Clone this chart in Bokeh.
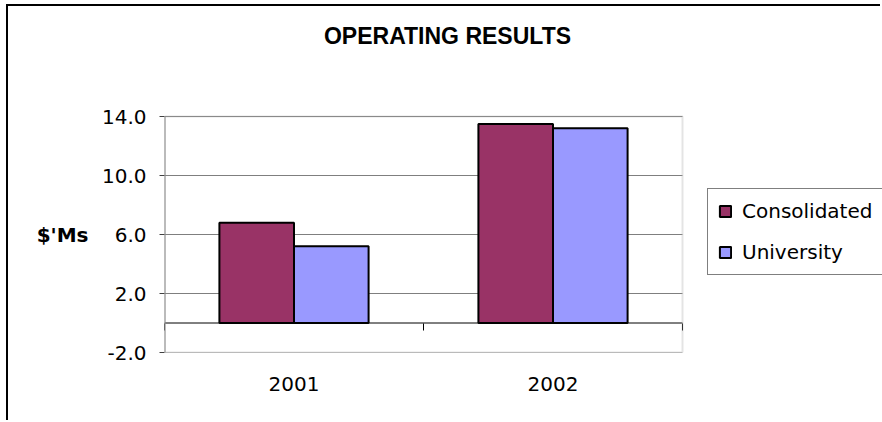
from bokeh.plotting import figure
from bokeh.models import (Range1d, FixedTicker, PrintfTickFormatter, LinearAxis,
                          Legend, LegendItem, Label, BoxAnnotation, ColumnDataSource)
from bokeh.embed import file_html
from bokeh.resources import INLINE

# Operating results, $ millions
years = ["2001", "2002"]
consolidated = [6.8, 13.5]
university = [5.2, 13.2]
y_ticks = [-2.0, 2.0, 6.0, 10.0, 14.0]
series_names = ["Consolidated", "University"]
series_colors = ["#993366", "#9999FF"]
title_text = "OPERATING RESULTS"
y_label = "$'Ms"

FONT = "DejaVu Sans"
BAR_W = 0.288

# canvas / plot-area geometry in pixels
CANVAS_W, CANVAS_H = 874, 416
LEFT, BOTTOM = 156, 70
AREA_W, AREA_H = 518, 236            # the boxed plot area
FRAME_W = CANVAS_W - LEFT            # drawing frame runs to the right edge
FRAME_H = CANVAS_H - BOTTOM          # ... and up to the top edge

n = len(years)
y_lo, y_hi = y_ticks[0], y_ticks[-1]
x_end = n * FRAME_W / AREA_W
y_end = y_lo + (y_hi - y_lo) * FRAME_H / AREA_H

# one unit-wide slot per year; the two series sit side by side in the middle
slot_centers = [i + 0.5 for i in range(n)]
source = ColumnDataSource(dict(
    left_x=[c - BAR_W / 2 for c in slot_centers],
    right_x=[c + BAR_W / 2 for c in slot_centers],
    consolidated=consolidated,
    university=university,
))

p = figure(width=CANVAS_W, height=CANVAS_H,
           x_range=Range1d(0, x_end), y_range=Range1d(y_lo, y_end),
           output_backend="svg", toolbar_location=None, title_location=None,
           min_border_left=LEFT, min_border_right=0,
           min_border_top=0, min_border_bottom=BOTTOM,
           background_fill_color="white", border_fill_color="white",
           outline_line_color=None)

# chart-area frame (top and left edges)
p.styles = {"margin-left": "6px", "margin-top": "4px",
            "border-left": "2px solid black", "border-top": "2px solid black"}

# value axis
yax = p.yaxis[0]
yax.ticker = FixedTicker(ticks=y_ticks)
yax.formatter = PrintfTickFormatter(format="%.1f")
yax.axis_line_color = None
yax.major_tick_out = 5
yax.major_tick_in = 0
yax.major_tick_line_color = "#404040"
yax.minor_tick_line_color = None
yax.major_label_text_font = FONT
yax.major_label_text_font_size = "20px"
yax.major_label_text_color = "black"
yax.major_label_standoff = 13

# unit caption, level with the middle of the value scale
mid = (y_lo + y_hi) / 2
unit_axis = LinearAxis(ticker=FixedTicker(ticks=[mid]),
                       major_label_overrides={mid: y_label},
                       axis_line_color=None, major_tick_line_color=None,
                       minor_tick_line_color=None, major_label_standoff=4,
                       major_label_text_font=FONT, major_label_text_font_style="bold",
                       major_label_text_font_size="20px", major_label_text_color="black")
p.add_layout(unit_axis, "left")

p.xgrid.visible = False
p.ygrid.visible = False

# category labels along the bottom
xax = p.xaxis[0]
xax.ticker = FixedTicker(ticks=slot_centers)
xax.major_label_overrides = {c: y for c, y in zip(slot_centers, years)}
xax.axis_line_color = None
xax.major_tick_line_color = None
xax.minor_tick_line_color = None
xax.major_label_text_font = FONT
xax.major_label_text_font_size = "20px"
xax.major_label_text_color = "black"
xax.major_label_standoff = 18

# slot dividers hanging from the zero line
zero_ticks = LinearAxis(fixed_location=0, ticker=FixedTicker(ticks=list(range(n + 1))),
                        axis_line_color=None, major_tick_in=0, major_tick_out=7,
                        major_tick_line_color="black", minor_tick_line_color=None,
                        major_label_text_alpha=0, major_label_text_font_size="1px")
p.add_layout(zero_ticks, "below")

# gridlines across the plot area only
p.segment(x0=0, x1=n, y0=y_ticks, y1=y_ticks, line_color="#7f7f7f", line_width=1)

r1 = p.vbar(x="left_x", top="consolidated", bottom=0,
            width=BAR_W, source=source, fill_color=series_colors[0],
            line_color="black", line_width=2)
r2 = p.vbar(x="right_x", top="university", bottom=0,
            width=BAR_W, source=source, fill_color=series_colors[1],
            line_color="black", line_width=2)

# zero line
p.segment(x0=[0], x1=[n], y0=[0], y1=[0], line_color="black", line_width=1)

# plot-area border
p.add_layout(BoxAnnotation(left=0, right=n, bottom=y_lo, top=y_hi,
                           fill_alpha=0, line_color="#a6a6a6", line_width=2))
p.segment(x0=[0], x1=[0], y0=[y_lo], y1=[y_hi], line_color="#808080", line_width=2)

legend = Legend(items=[LegendItem(label=series_names[0], renderers=[r1]),
                       LegendItem(label=series_names[1], renderers=[r2])],
                location=(543, 77), margin=0, padding=10, spacing=17,
                glyph_width=14, glyph_height=14, label_standoff=10,
                label_text_font=FONT, label_text_font_size="20px",
                label_text_color="black",
                border_line_color="black", border_line_width=1,
                background_fill_color="white", background_fill_alpha=1)
p.add_layout(legend)

p.add_layout(Label(x=283, y=317, x_units="screen", y_units="screen",
                   text=title_text, text_align="center", text_baseline="middle",
                   text_font="Liberation Sans", text_font_style="bold",
                   text_font_size="23px", text_color="black"))

open("out.html", "w").write(file_html(p, INLINE))
